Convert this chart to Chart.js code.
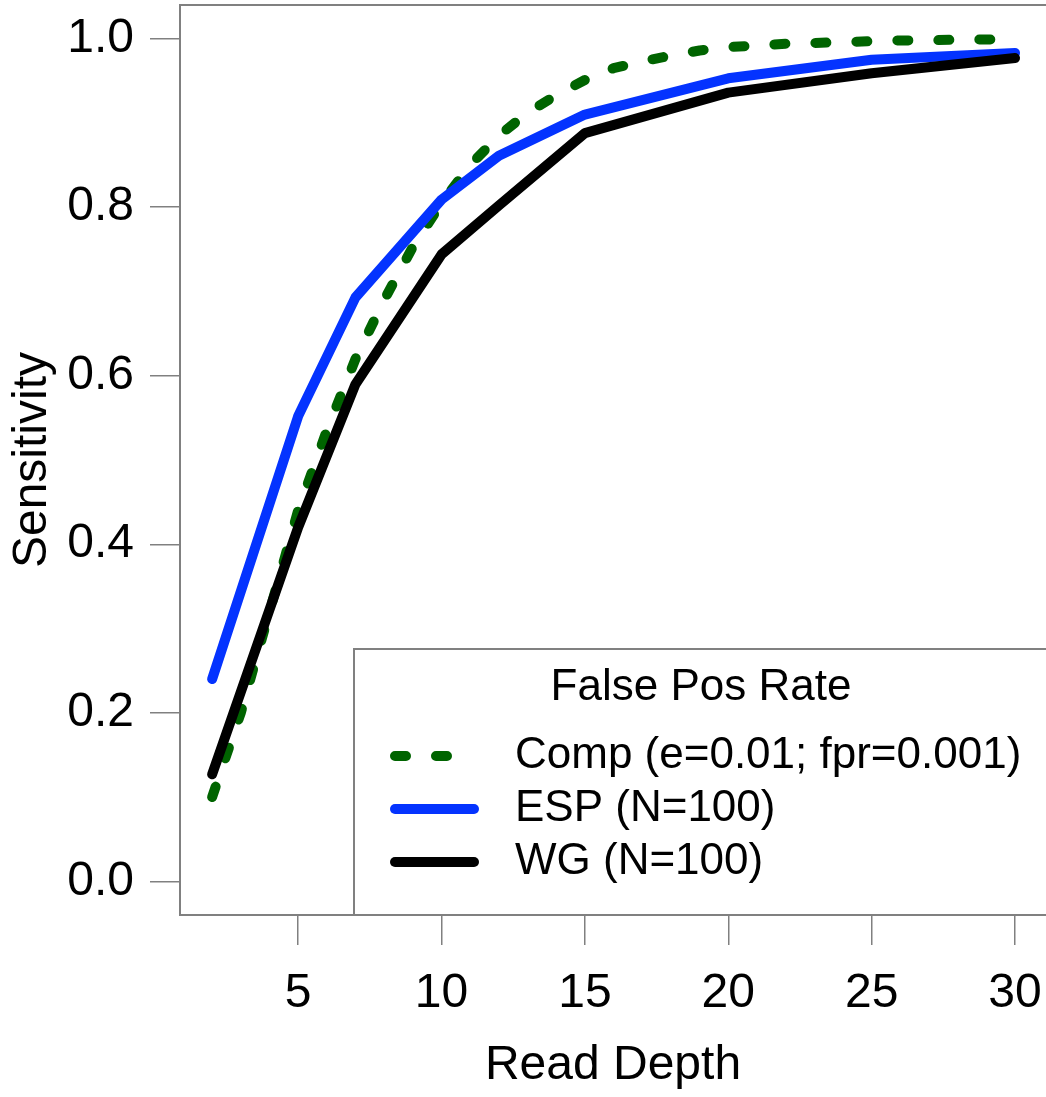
<!DOCTYPE html>
<html>
<head>
<meta charset="utf-8">
<script src="https://cdn.jsdelivr.net/npm/chart.js@4/dist/chart.umd.min.js"></script>
<style>
  html, body { margin: 0; padding: 0; background: #fff; overflow: hidden; }
  #sensGraph { display: block; }
</style>
</head>
<body>
<canvas id="sensGraph" width="1046" height="1097"></canvas>
<script>
// profondeurs de lecture et sensibilites
const depths = [2, 5, 7, 10, 12, 15, 20, 25, 30];
const espSens = [0.240, 0.552, 0.693, 0.809, 0.861, 0.910, 0.953, 0.975, 0.983];
const wgSens = [0.127, 0.420, 0.590, 0.744, 0.802, 0.888, 0.936, 0.959, 0.977];

// courbe theorique, une valeur par profondeur entiere
const compDepths = [2, 3, 4, 5, 6, 7, 8, 9, 10, 11, 12, 13, 14, 15, 16,
                    17, 18, 19, 20, 21, 22, 23, 24, 25, 26, 27, 28, 29, 30];
const compSens = [0.100, 0.200, 0.320, 0.440, 0.535, 0.620, 0.690, 0.753, 0.805, 0.850,
                  0.885, 0.912, 0.933, 0.951, 0.965, 0.973, 0.980, 0.986, 0.990, 0.992,
                  0.994, 0.995, 0.996, 0.997, 0.998, 0.998, 0.999, 0.999, 0.999];

const xTicks = [5, 10, 15, 20, 25, 30];
const yTicks = [0, 0.2, 0.4, 0.6, 0.8, 1.0];

const legendTitle = 'False Pos Rate';
const labels = ['Comp (e=0.01; fpr=0.001)', 'ESP (N=100)', 'WG (N=100)'];

const FONT = 'Liberation Sans, Arial, Helvetica, sans-serif';
const GREEN = '#006400';
const BLUE = '#0433ff';
const BLACK = '#000000';
const GRAY = '#808080';

function pts(xs, ys) {
    return xs.map((x, i) => ({x: x, y: ys[i]}));
}

// pas de marge auto pour les etiquettes, la zone de trace est fixee
function noPadding(scale) {
    scale.paddingTop = 0;
    scale.paddingBottom = 0;
    scale.paddingLeft = 0;
    scale.paddingRight = 0;
}

// cadre autour de la zone de trace
const framePlugin = {
    id: 'frame',
    beforeDatasetsDraw(chart) {
        const {ctx, chartArea: a} = chart;
        ctx.save();
        ctx.strokeStyle = GRAY;
        ctx.lineWidth = 2;
        ctx.strokeRect(a.left, a.top, a.right - a.left + 2, a.bottom - a.top);
        ctx.restore();
    }
};

// legende dessinee a la main (titre + echantillons de lignes)
const legendPlugin = {
    id: 'boxLegend',
    afterDatasetsDraw(chart) {
        const ctx = chart.ctx;
        const a = chart.chartArea;
        const left = 354, top = 649;
        ctx.save();
        ctx.fillStyle = '#fff';
        ctx.fillRect(left, top, a.right - left + 2, a.bottom - top);
        ctx.strokeStyle = GRAY;
        ctx.lineWidth = 2;
        ctx.strokeRect(left, top, a.right - left + 4, a.bottom - top);

        ctx.fillStyle = '#000';
        ctx.font = '44px ' + FONT;
        ctx.textBaseline = 'middle';
        ctx.textAlign = 'center';
        ctx.fillText(legendTitle, 701, 688);

        const rows = [756, 809, 862];
        chart.data.datasets.forEach((ds, i) => {
            ctx.beginPath();
            ctx.strokeStyle = ds.borderColor;
            ctx.lineWidth = ds.borderWidth;
            ctx.lineCap = 'round';
            ctx.setLineDash(ds.borderDash || []);
            ctx.moveTo(395, rows[i]);
            ctx.lineTo(474, rows[i]);
            ctx.stroke();
            ctx.setLineDash([]);
            ctx.textAlign = 'left';
            ctx.fillText(labels[i], 515, rows[i]);
        });
        ctx.restore();
    }
};

const ctx = document.getElementById('sensGraph').getContext('2d');

new Chart(ctx, {
    type: 'line',
    data: {
        datasets: [
            {
                label: labels[0],
                data: pts(compDepths, compSens),
                borderColor: GREEN,
                borderWidth: 10,
                borderDash: [11, 30],
                borderCapStyle: 'round',
                borderJoinStyle: 'round',
                pointRadius: 0,
                order: 3
            },
            {
                label: labels[1],
                data: pts(depths, espSens),
                borderColor: BLUE,
                borderWidth: 10,
                borderCapStyle: 'round',
                borderJoinStyle: 'round',
                pointRadius: 0,
                order: 2
            },
            {
                label: labels[2],
                data: pts(depths, wgSens),
                borderColor: BLACK,
                borderWidth: 10,
                borderCapStyle: 'round',
                borderJoinStyle: 'round',
                pointRadius: 0,
                order: 1
            }
        ]
    },
    options: {
        responsive: false,
        animation: false,
        devicePixelRatio: 1,
        layout: { padding: { top: 5, right: 0, left: 0, bottom: 0 } },
        plugins: {
            legend: { display: false },
            tooltip: { enabled: false }
        },
        scales: {
            x: {
                type: 'linear',
                min: 0.88,
                max: 31.08,
                afterBuildTicks: (scale) => { scale.ticks = xTicks.map(v => ({value: v})); },
                afterFit: (scale) => { scale.height = 182; noPadding(scale); },
                grid: { drawOnChartArea: false, drawTicks: true, tickLength: 30, color: GRAY, lineWidth: 1.5 },
                border: { display: false },
                ticks: {
                    padding: 20,
                    color: '#000',
                    maxRotation: 0,
                    font: { family: FONT, size: 48, lineHeight: 1.2 }
                },
                title: {
                    display: true,
                    text: 'Read Depth',
                    color: '#000',
                    padding: { top: 0, bottom: 2 },
                    font: { family: FONT, size: 48, lineHeight: 1.2 }
                }
            },
            y: {
                type: 'linear',
                min: -0.04,
                max: 1.04,
                afterBuildTicks: (scale) => { scale.ticks = yTicks.map(v => ({value: v})); },
                afterFit: (scale) => { scale.width = 180; noPadding(scale); },
                grid: { drawOnChartArea: false, drawTicks: true, tickLength: 30, color: GRAY, lineWidth: 1.5 },
                border: { display: false },
                ticks: {
                    padding: 16,
                    color: '#000',
                    callback: (v) => v.toFixed(1),
                    font: { family: FONT, size: 48, lineHeight: 1.2 }
                },
                title: {
                    display: true,
                    text: 'Sensitivity',
                    color: '#000',
                    padding: { top: 4, bottom: 0 },
                    font: { family: FONT, size: 48, lineHeight: 1.2 }
                }
            }
        }
    },
    plugins: [framePlugin, legendPlugin]
});
</script>
</body>
</html>
